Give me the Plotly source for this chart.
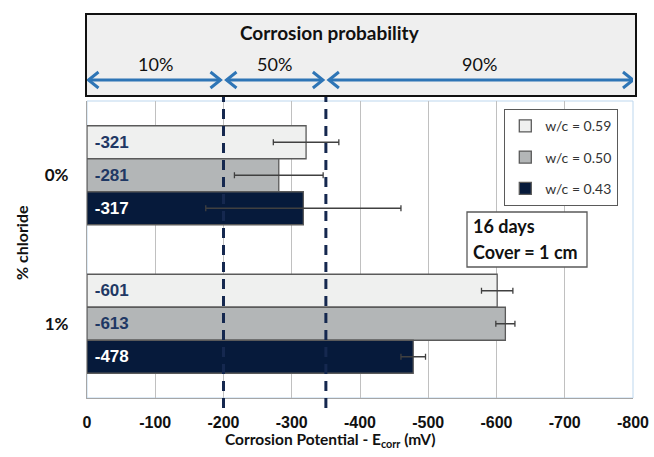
import plotly.graph_objects as go

# Half-cell potential readings (mV) after 16 days, cover = 1 cm
chloride = ["0%", "1%"]
wc_labels = ["w/c = 0.59", "w/c = 0.50", "w/c = 0.43"]
ecorr_059 = [-321, -601]
ecorr_050 = [-281, -613]
ecorr_043 = [-317, -478]
err_059 = [48, 23]
err_050 = [65, 14]
err_043 = [143, 18]

# ASTM C876 corrosion probability zones
zone_edges = [0, -200, -350, -800]
zone_labels = ["10%", "50%", "90%"]

x_ticks = [0, -100, -200, -300, -400, -500, -600, -700, -800]
x_ticktext = ["0", "-100", "-200", "-300", "-400", "-500", "-600", "-700", "-800"]

fill_colors = ["#eff0ef", "#b3b6b7", "#061a3b"]
label_colors = ["#1f3864", "#1f3864", "#ffffff"]

NAVY = "#15284f"
BLUE = "#2e75b6"
LABEL_FONT = "Liberation Sans"
TEXT_FONT = "Lato"

fig = go.Figure()

series = [ecorr_059, ecorr_050, ecorr_043]
errors = [err_059, err_050, err_043]
for i, (name, vals, errs) in enumerate(zip(wc_labels, series, errors)):
    fig.add_trace(go.Bar(
        name=name,
        legendgroup=name,
        orientation="h",
        y=chloride,
        x=vals,
        text=["\u00a0" + str(v) for v in vals],
        textposition="inside",
        insidetextanchor="start",
        textfont=dict(family=LABEL_FONT, size=17, weight="bold", color=label_colors[i]),
        marker=dict(color=fill_colors[i], line=dict(color="#5a5a5a", width=1.3)),
        error_x=dict(type="data", array=errs, symmetric=True,
                     color="#404040", thickness=1.3, width=3),
        hoverinfo="skip",
    ))

# px -> paper helpers for the fixed layout (plot area 546 x 297 px)
L, T, W, H = 87, 101, 546, 297


def px_x(px):
    return (px - L) / W


def px_y(py):
    return (T + H - py) / H


shapes = []

# light-blue plot frame
shapes.append(dict(type="rect", xref="paper", yref="paper", x0=0, x1=1, y0=0, y1=1,
                   line=dict(color="#bdd7ee", width=1), layer="below"))

# header box for the probability scale
shapes.append(dict(type="rect", xref="paper", yref="paper",
                   x0=px_x(86), x1=px_x(636), y0=px_y(96), y1=px_y(14),
                   fillcolor="#efefef", line=dict(color="#111111", width=2)))

# double-headed zone arrows with open chevron heads
arrow_y = px_y(80)
head_dx = 10 * 800 / W      # ~10 px back along the axis
head_dy = 8 / H             # ~8 px up/down
gap = 3 * 800 / W
for a, b in zip(zone_edges[:-1], zone_edges[1:]):
    x_left = a - (gap if a != 0 else 0.5 * gap)
    x_right = b + (gap if b != zone_edges[-1] else 0)
    shapes.append(dict(type="line", xref="x", yref="paper",
                       x0=x_left, x1=x_right, y0=arrow_y, y1=arrow_y,
                       line=dict(color=BLUE, width=3)))
    shapes.append(dict(type="path", xref="x", yref="paper",
                       path=f"M {x_left - head_dx},{arrow_y + head_dy} L {x_left},{arrow_y} "
                            f"L {x_left - head_dx},{arrow_y - head_dy}",
                       line=dict(color=BLUE, width=3)))
    shapes.append(dict(type="path", xref="x", yref="paper",
                       path=f"M {x_right + head_dx},{arrow_y + head_dy} L {x_right},{arrow_y} "
                            f"L {x_right + head_dx},{arrow_y - head_dy}",
                       line=dict(color=BLUE, width=3)))

# dashed zone boundaries
for edge in zone_edges[1:-1]:
    shapes.append(dict(type="line", xref="x", yref="paper", x0=edge, x1=edge,
                       y0=px_y(408), y1=px_y(97),
                       line=dict(color=NAVY, width=3, dash="10px,7px"), layer="above"))

# info box
shapes.append(dict(type="rect", xref="paper", yref="paper",
                   x0=px_x(467), x1=px_x(587), y0=px_y(267), y1=px_y(212),
                   fillcolor="white", line=dict(color="#5a5a5a", width=1.3)))


def label(text, x, y, size=16, bold=True, xref="paper", xanchor="center", **kw):
    return dict(text=text, xref=xref, yref="paper", x=x, y=y, showarrow=False,
                xanchor=xanchor, yanchor="middle",
                font=dict(family=TEXT_FONT, size=size, weight="bold" if bold else "normal",
                          color="#111111"), **kw)


annotations = [
    label("Corrosion probability", px_x(330), px_y(33), size=19),
    label("Corrosion Potential - E<sub>corr</sub> (mV)", px_x(330), px_y(440), size=15.5),
    label("% chloride", px_x(21), px_y(243), textangle=-90),
    label("16 days", px_x(471), px_y(226), size=18, xanchor="left"),
    label("Cover = 1 cm", px_x(471), px_y(252), size=18, xanchor="left"),
]
for a, b, lab in zip(zone_edges[:-1], zone_edges[1:], zone_labels):
    annotations.append(label(lab, (a + b) / 2, px_y(64), size=18, bold=False, xref="x"))

fig.update_layout(
    width=654, height=457,
    margin=dict(l=L, r=654 - L - W, t=T, b=457 - T - H, autoexpand=False),
    paper_bgcolor="white", plot_bgcolor="white",
    barmode="group", bargap=0.333, bargroupgap=0,
    showlegend=True,
    legend=dict(x=px_x(504), y=px_y(109), xanchor="left", yanchor="top",
                bgcolor="white", bordercolor="#5a5a5a", borderwidth=1.3,
                traceorder="grouped", tracegroupgap=10,
                font=dict(family=TEXT_FONT, size=14, color="#333333")),
    xaxis=dict(range=[0, -800], autorange=False, tickvals=x_ticks, ticktext=x_ticktext,
               showgrid=True, gridcolor="#c0c0c0", gridwidth=1,
               zeroline=False, showline=True, linecolor="#a6a6a6", linewidth=1.3,
               ticks="", ticklabelstandoff=10,
               tickfont=dict(family=LABEL_FONT, size=16, weight="bold", color="#111111")),
    yaxis=dict(type="category", categoryorder="array", categoryarray=chloride,
               range=[1.5, -0.5], autorange=False, showgrid=False, zeroline=False,
               showline=True, linecolor="#a6a6a6", linewidth=1.3,
               ticks="", ticklabelstandoff=14,
               tickfont=dict(family=TEXT_FONT, size=17, weight="bold", color="#111111")),
    shapes=shapes,
    annotations=annotations,
    font=dict(family=TEXT_FONT),
)

fig.write_html("out.html")
